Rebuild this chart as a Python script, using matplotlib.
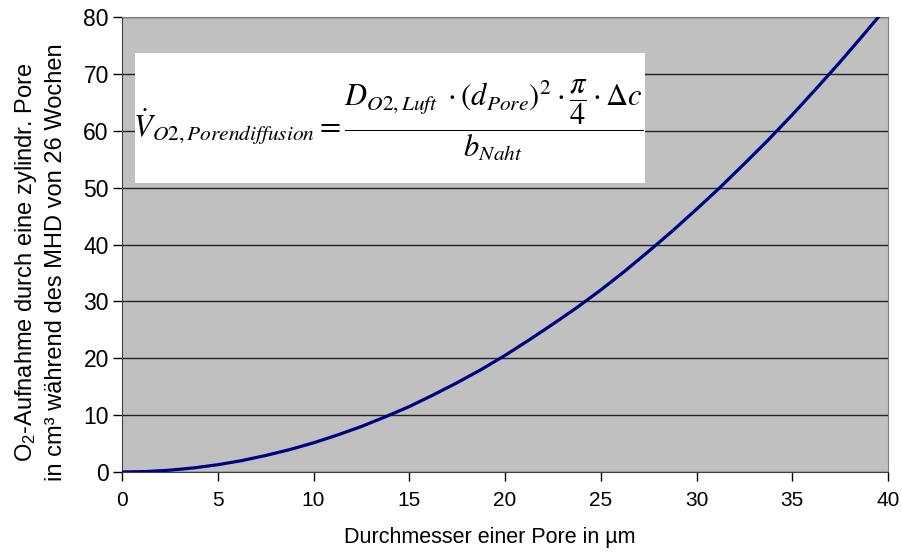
import matplotlib
matplotlib.use("Agg")
import matplotlib.pyplot as plt
from matplotlib.patches import Rectangle

# Durchmesser der Pore (µm) und O2-Aufnahme (cm³)
durchmesser = [0, 1.25, 2.5, 3.75, 5, 6.25, 7.5, 8.75, 10, 11.25, 12.5, 13.75, 15, 16.25,
               17.5, 18.75, 20, 21.25, 22.5, 23.75, 25, 26.25, 27.5, 28.75, 30, 31.25,
               32.5, 33.75, 35, 36.25, 37.5, 38.75, 40]
o2_aufnahme = [0, 0.08, 0.32, 0.72, 1.28, 2.0, 2.9, 3.93, 5.13, 6.5, 8.0, 9.7, 11.5, 13.55,
               15.7, 18.0, 20.5, 23.2, 26.0, 28.9, 32.0, 35.3, 38.8, 42.4, 46.2, 50.1,
               54.2, 58.4, 62.8, 67.4, 72.1, 77.0, 82.0]

x_ticks = [0, 5, 10, 15, 20, 25, 30, 35, 40]
y_ticks = [0, 10, 20, 30, 40, 50, 60, 70, 80]

plt.rcParams['font.family'] = ['Liberation Sans', 'DejaVu Sans']
plt.rcParams['mathtext.fontset'] = 'custom'
plt.rcParams['mathtext.rm'] = 'Liberation Sans'
plt.rcParams['mathtext.it'] = 'Liberation Sans:italic'

fig = plt.figure(figsize=(9.03, 5.6), dpi=100)
ax = fig.add_axes([122/903, 88/560, 766/903, 455/560])
ax.set_facecolor("#c0c0c0")

ax.plot(durchmesser, o2_aufnahme, color="#000080", linewidth=2.3, zorder=3)

ax.set_xlim(0, 40)
ax.set_ylim(0, 80)
ax.set_xticks(x_ticks)
ax.set_yticks(y_ticks)
ax.tick_params(axis="both", length=6.5, width=1, colors="black")
ax.tick_params(axis="y", labelsize=16.5, pad=3)
ax.tick_params(axis="x", labelsize=15, pad=7)
ax.yaxis.grid(True, color="#202020", linewidth=1)
ax.set_axisbelow(True)

for s in ["left", "bottom"]:
    ax.spines[s].set_color("#404040")
for s in ["top", "right"]:
    ax.spines[s].set_color("#808080")

# Achsentitel
fig.text(489.5/903, 1 - 537/560, "Durchmesser einer Pore in µm", fontsize=15.5,
         ha="center", va="center")
fig.text(40/903, 1 - 262/560,
         "O$_\\mathregular{2}$-Aufnahme durch eine zylindr. Pore\nin cm³ während des MHD von 26 Wochen",
         fontsize=17, rotation=90, ha="center", va="center", multialignment="center",
         linespacing=1.4)

# weisses Feld mit der Formel
ax.add_patch(Rectangle((0.017, 0.635), 0.666, 0.286, transform=ax.transAxes,
                       facecolor="white", edgecolor="none", zorder=4))
formel = (r"$\dot{V}_{O2,Porendiffusion} = "
          r"\dfrac{D_{O2,Luft}\;\cdot(d_{Pore})^2\cdot\dfrac{\pi}{4}\cdot\Delta c}{b_{Naht}}$")
ax.text(0.348, 0.772, formel, transform=ax.transAxes, fontsize=22, math_fontfamily="stix",
        ha="center", va="center", zorder=5)

fig.savefig("out.png", dpi=100)
